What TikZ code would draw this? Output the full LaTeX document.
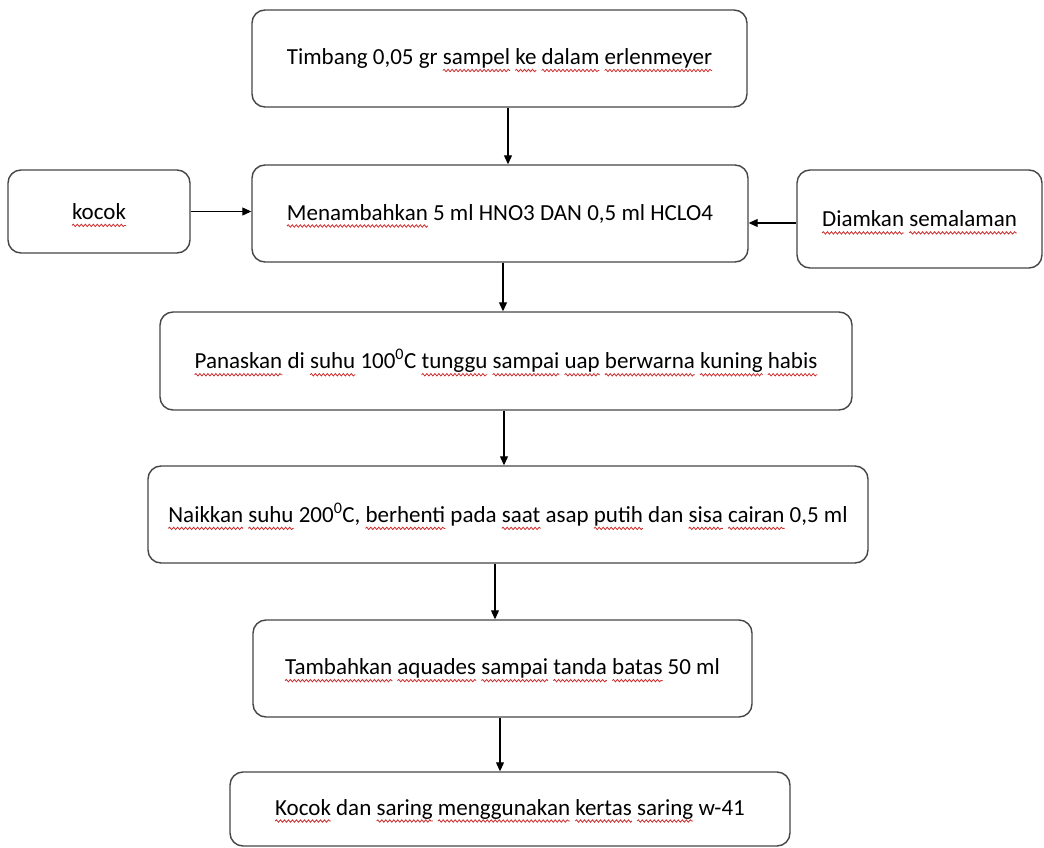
\documentclass[tikz,border=0pt]{standalone}
\usepackage{fontspec}
\setmainfont{Carlito}
\usetikzlibrary{arrows.meta,decorations.pathmorphing}
\definecolor{wavered}{RGB}{205,45,45}
\definecolor{boxline}{RGB}{70,70,70}
\newcommand\sq[1]{\tikz[baseline=(w.base),x=1pt,y=1pt]{%
  \node[draw=none,fill=none,rounded corners=0pt,inner sep=0pt,outer sep=0pt,
        minimum width=0pt,minimum height=0pt,anchor=base] (w) at (0,0) {#1};
  \draw[overlay,draw=wavered,line width=0.8pt,rounded corners=0pt,decorate,
        decoration={snake,amplitude=1.2pt,segment length=4pt}]
        ([yshift=-6pt]w.base west) -- ([yshift=-6pt]w.base east);}}
\tikzset{
  stepbox/.style={draw=boxline, line width=1.4pt, rounded corners=13pt, fill=white,
    align=center, inner sep=0pt, font=\fontsize{23}{27}\selectfont},
  arr/.style={draw=black, line width=1.1pt, -{Triangle[length=9pt,width=8pt]}}
}
\begin{document}
\begin{tikzpicture}[x=1pt,y=-1pt]
\useasboundingbox (0,0) rectangle (1044,848);
\fill[white] (0,0) rectangle (1044,848);
\node[stepbox, minimum width=495pt, minimum height=97pt] (b1) at (499.5,58.5)
  {Timbang 0,05 gr \sq{sampel} \sq{ke} \sq{dalam} \sq{erlenmeyer}};
\node[stepbox, minimum width=496pt, minimum height=97pt] (b2) at (500,213.5)
  {\sq{Menambahkan} 5 ml HNO3 DAN 0,5 ml HCLO4};
\node[stepbox, minimum width=182pt, minimum height=83pt] (k) at (99,211.5)
  {\sq{kocok}};
\node[stepbox, minimum width=245pt, minimum height=98pt] (d) at (919.5,219)
  {\sq{Diamkan} \sq{semalaman}};
\node[stepbox, minimum width=692pt, minimum height=98pt] (b3) at (506,361)
  {\sq{Panaskan} di \sq{suhu} 100\textsuperscript{0}C \sq{tunggu} \sq{sampai} \sq{uap} \sq{berwarna} \sq{kuning} \sq{habis}};
\node[stepbox, minimum width=720pt, minimum height=97pt] (b4) at (508,514.5)
  {\sq{Naikkan} \sq{suhu} 200\textsuperscript{0}C, \sq{berhenti} pada \sq{saat} asap \sq{putih} dan \sq{sisa} \sq{cairan} 0,5 ml};
\node[stepbox, minimum width=499pt, minimum height=97pt] (b5) at (502.5,668.5)
  {\sq{Tambahkan} \sq{aquades} \sq{sampai} \sq{tanda} \sq{batas} 50 ml};
\node[stepbox, minimum width=560pt, minimum height=74pt] (b6) at (510,809)
  {\sq{Kocok} dan \sq{saring} \sq{menggunakan} \sq{kertas} \sq{saring} w-41};
\draw[arr] ([xshift=8.5pt]b1.south) -- ([xshift=8.5pt]b1.south |- b2.north);
\draw[arr] ([xshift=3pt]b2.south) -- ([xshift=3pt]b2.south |- b3.north);
\draw[arr] ([xshift=-2pt]b3.south) -- ([xshift=-2pt]b3.south |- b4.north);
\draw[arr] ([xshift=-13pt]b4.south) -- ([xshift=-13pt]b4.south |- b5.north);
\draw[arr] ([xshift=-2.5pt]b5.south) -- ([xshift=-2.5pt]b5.south |- b6.north);
\draw[arr] (k.east) -- (k.east -| b2.west);
\draw[arr] ([yshift=-4pt]d.west) -- ([yshift=-4pt]d.west -| b2.east);
\end{tikzpicture}
\end{document}
